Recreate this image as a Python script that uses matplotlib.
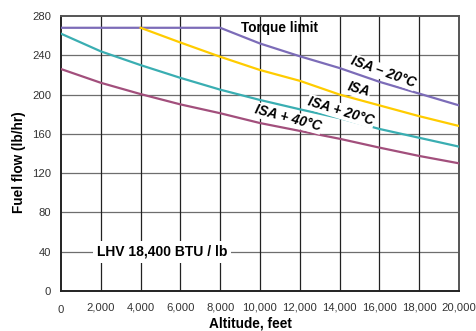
import numpy as np
import matplotlib.pyplot as plt
from matplotlib.transforms import ScaledTranslation

plt.rcParams['font.family'] = ['Liberation Sans', 'DejaVu Sans']

# altitude, feet
alt = [0, 2000, 4000, 6000, 8000, 10000, 12000, 14000, 16000, 18000, 20000]

# fuel flow, lb/hr
torque_alt = [0, 8000, 10000, 12000, 14000, 16000, 18000, 20000]
torque_ff = [268, 268, 252, 239, 227, 213, 201, 189]

isa_alt = [4000, 6000, 8000, 10000, 12000, 14000, 16000, 18000, 20000]
isa_ff = [268, 253, 238.5, 225, 214, 200, 189, 178, 168]

isa20_ff = [262, 244, 230, 217, 205, 194.5, 185, 176, 165, 156, 147]
isa40_ff = [226, 212, 200.5, 190, 181, 171, 163, 155, 146, 137.5, 130]

x_ticks = list(range(0, 20001, 2000))
x_labels = ['0', '2,000', '4,000', '6,000', '8,000', '10,000', '12,000',
            '14,000', '16,000', '18,000', '20,000']
y_ticks = list(range(0, 281, 40))

purple = '#7c6cb8'
yellow = '#ffcc00'
teal = '#3aaeb2'
maroon = '#a24f7c'

fig = plt.figure(figsize=(4.76, 3.31), dpi=100)
ax = fig.add_axes([61 / 476, 40 / 331, 398 / 476, 275 / 331])

ax.plot(torque_alt, torque_ff, color=purple, lw=1.6, zorder=3)
ax.plot(isa_alt, isa_ff, color=yellow, lw=1.6, zorder=3)
ax.plot(alt, isa20_ff, color=teal, lw=1.6, zorder=3)
ax.plot(alt, isa40_ff, color=maroon, lw=1.6, zorder=3)

ax.set_xlim(0, 20000)
ax.set_ylim(0, 280)
ax.set_xticks(x_ticks)
ax.set_xticklabels(x_labels)
ax.set_yticks(y_ticks)
ax.tick_params(length=0, labelsize=8.1, labelcolor='#333333')
ax.tick_params(axis='x', pad=8)
ax.tick_params(axis='y', pad=7)

# horizontal grid grey, vertical grid dark
for y in y_ticks[1:-1]:
    ax.axhline(y, color='#6e6e6e', lw=0.9, zorder=1)
for x in x_ticks[1:-1]:
    ax.axvline(x, color='#222222', lw=0.9, zorder=1)

for s in ax.spines.values():
    s.set_linewidth(1.4)
    s.set_color('#222222')
ax.spines['top'].set_color('#555555')
ax.spines['right'].set_color('#555555')

# the "0" on the x axis sits a bit lower
lbl0 = ax.get_xticklabels()[0]
lbl0.set_transform(lbl0.get_transform() + ScaledTranslation(0, -3 / 100, fig.dpi_scale_trans))

ax.set_xlabel('Altitude, feet', fontsize=9.8, fontweight='bold', va='center')
ax.xaxis.set_label_coords((250 - 61) / 398, (291 - 324) / 275)
ax.set_ylabel('Fuel flow (lb/hr)', fontsize=9.8, fontweight='bold', va='center')
ax.yaxis.set_label_coords((19 - 61) / 398, (291 - 162) / 275)

box = dict(facecolor='white', edgecolor='none', pad=0.6)
ax.text(9050, 268, 'Torque limit', fontsize=9.8, fontweight='bold',
        ha='left', va='center', zorder=4)
ax.text(16180, 223, 'ISA – 20°C', fontsize=9.8, fontweight='bold', fontstyle='italic',
        rotation=-20, ha='center', va='center', bbox=box, zorder=4)
ax.text(14950, 205, 'ISA', fontsize=9.8, fontweight='bold', fontstyle='italic',
        rotation=-16, ha='center', va='center', bbox=box, zorder=4)
ax.text(14070, 183, 'ISA + 20°C', fontsize=9.8, fontweight='bold', fontstyle='italic',
        rotation=-17, ha='center', va='center', bbox=box, zorder=4)
ax.text(11400, 176, 'ISA + 40°C', fontsize=9.8, fontweight='bold', fontstyle='italic',
        rotation=-15, ha='center', va='center', bbox=box, zorder=4)
ax.text(5070, 40, 'LHV 18,400 BTU / lb', fontsize=10, fontweight='bold',
        ha='center', va='center', bbox=dict(facecolor='white', edgecolor='none', pad=3), zorder=4)

fig.savefig('out.png', dpi=100)
